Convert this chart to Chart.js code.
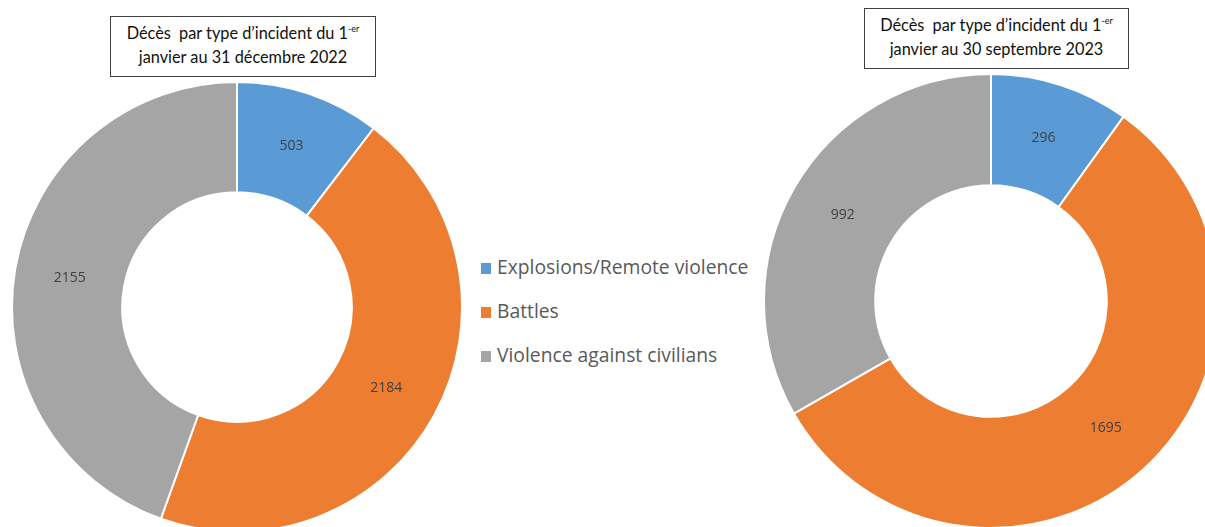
<!DOCTYPE html>
<html lang="fr">
<head>
<meta charset="utf-8">
<title>Décès par type d'incident</title>
<script src="https://cdn.jsdelivr.net/npm/chart.js@4.4.1/dist/chart.umd.min.js"></script>
<style>
  html, body { margin: 0; padding: 0; background: #fff; }
  body { width: 1205px; height: 527px; position: relative; overflow: hidden; }
  canvas { position: absolute; }
  .titlebox {
    position: absolute; box-sizing: border-box;
    border: 1px solid #404040; background: #fff;
    font-family: Lato, "Open Sans", sans-serif; font-size: 16.3px; color: #111;
    text-align: center; line-height: 24px; padding-top: 4px; white-space: pre;
  }
  .titlebox sup { font-size: 9px; line-height: 0; vertical-align: 7px; }
  #legend { position: absolute; left: 481px; top: 252px; margin: 0; padding: 0; list-style: none;
    font-family: "Open Sans", sans-serif; font-size: 19.3px; color: #595959; }
  #legend li { height: 44px; position: relative; padding-left: 16px; line-height: 30px; white-space: nowrap; }
  #legend li span { position: absolute; left: 0; top: 11px; width: 10px; height: 11px; }
</style>
</head>
<body>
<div class="titlebox" id="t1" style="left:110px; top:16px; width:266px; height:61px;"></div>
<div class="titlebox" id="t2" style="left:864px; top:8px; width:265px; height:61px;"></div>
<canvas id="c2022" width="452" height="452" style="left:11px; top:81px;"></canvas>
<canvas id="c2023" width="456" height="456" style="left:763px; top:73px;"></canvas>
<ul id="legend"></ul>
<script>
// Incident categories and their colours
const categories = ["Explosions/Remote violence", "Battles", "Violence against civilians"];
const colors = ["#5B9BD5", "#ED7D31", "#A5A5A5"];

// Deaths per incident type
const deaths2022 = [503, 2184, 2155];
const deaths2023 = [296, 1695, 992];

// Period titles (line 1 is shared; superscript added in markup)
const titleLine1 = "Décès  par type d’incident du 1";
const titleSup = "-er";
const title2022 = "janvier au 31 décembre 2022";
const title2023 = "janvier au 30 septembre 2023";

function fillTitle(id, line2) {
  const el = document.getElementById(id);
  el.innerHTML = "";
  el.appendChild(document.createTextNode(titleLine1));
  const sup = document.createElement("sup");
  sup.textContent = titleSup;
  el.appendChild(sup);
  el.appendChild(document.createElement("br"));
  el.appendChild(document.createTextNode(line2));
}
fillTitle("t1", title2022);
fillTitle("t2", title2023);

// Shared legend between the two rings
const legend = document.getElementById("legend");
categories.forEach((name, i) => {
  const li = document.createElement("li");
  const box = document.createElement("span");
  box.style.background = colors[i];
  li.appendChild(box);
  li.appendChild(document.createTextNode(name));
  legend.appendChild(li);
});

// Writes each slice's value at the middle of its arc
const valueLabels = {
  id: "valueLabels",
  afterDatasetsDraw(chart) {
    const ctx = chart.ctx;
    const ds = chart.data.datasets[0];
    const meta = chart.getDatasetMeta(0);
    ctx.save();
    ctx.font = "14px 'Open Sans', sans-serif";
    ctx.fillStyle = "#404040";
    ctx.textAlign = "center";
    ctx.textBaseline = "middle";
    meta.data.forEach((arc, i) => {
      const p = arc.tooltipPosition();
      ctx.fillText(String(ds.data[i]), p.x, p.y);
    });
    ctx.restore();
  }
};

function makeRing(id, values) {
  return new Chart(document.getElementById(id), {
    type: "doughnut",
    data: {
      labels: categories,
      datasets: [{
        data: values,
        backgroundColor: colors,
        borderColor: "#ffffff",
        borderWidth: 2,
        hoverOffset: 0
      }]
    },
    options: {
      responsive: false,
      animation: false,
      cutout: "51%",
      layout: { padding: 0 },
      plugins: { legend: { display: false }, tooltip: { enabled: false } },
      events: []
    },
    plugins: [valueLabels]
  });
}

makeRing("c2022", deaths2022);
makeRing("c2023", deaths2023);
</script>
</body>
</html>
